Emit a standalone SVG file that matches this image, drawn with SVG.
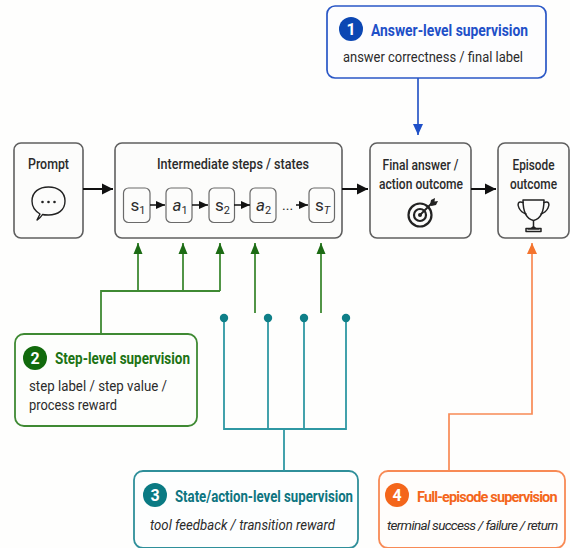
<svg xmlns="http://www.w3.org/2000/svg" width="570" height="548" viewBox="0 0 570 548">
<style>
text{font-family:"Roboto","Liberation Sans",sans-serif;fill:#2b2b2b}
.box{fill:#fcfcfb;stroke:#5f5f5f;stroke-width:1.6}
.in{fill:#fcfcfb;stroke:#6a6a6a;stroke-width:1.2}
.lb{font-size:15px;font-weight:500;text-anchor:middle}
.sub{font-size:15px}
.it{font-style:italic}
.ttl{font-size:17px;font-weight:700}
.num{font-size:16px;font-weight:700;fill:#fff;text-anchor:middle}
.m{font-size:17px}
.s{font-size:11px}
.k{fill:none;stroke:#111;stroke-width:2}
.ik{fill:none;stroke:#222;stroke-width:2;stroke-linecap:round;stroke-linejoin:round}
</style>
<defs>
<marker id="ab" markerUnits="userSpaceOnUse" markerWidth="12" markerHeight="12" refX="11" refY="6" orient="auto"><path d="M0 .5L11 6L0 11.5z" fill="#111"/></marker>
<marker id="as" markerUnits="userSpaceOnUse" markerWidth="10" markerHeight="10" refX="9" refY="5" orient="auto"><path d="M0 1L9 5L0 9z" fill="#111"/></marker>
<marker id="ag" markerUnits="userSpaceOnUse" markerWidth="12" markerHeight="12" refX="11" refY="6" orient="auto"><path d="M0 1.5L11 6L0 10.500z" fill="#1c6b14"/></marker>
<marker id="au" markerUnits="userSpaceOnUse" markerWidth="12" markerHeight="12" refX="11" refY="6" orient="auto"><path d="M0 1L11 6L0 11z" fill="#1f50c8"/></marker>
<marker id="ao" markerUnits="userSpaceOnUse" markerWidth="12" markerHeight="12" refX="11" refY="6" orient="auto"><path d="M0 1L11 6L0 11z" fill="#f4742e"/></marker>
</defs>
<rect width="570" height="548" fill="#fefefd"/>
<g id="prompt"><rect class="box" x="14" y="143" width="69" height="95" rx="7"/><text class="lb" x="48.500" y="169" textLength="41" lengthAdjust="spacingAndGlyphs">Prompt</text>
<path class="ik" style="stroke-width:1.400" d="M37 220L40 214C35 211 32 206 32 201C32 192 39 187 48.500 187C58 187 65 192 65 201C65 210 58 215 48.500 215C46 215 44 215 42.500 214.500C41 217 39 219 37 220Z"/>
<g fill="#222"><circle cx="42.500" cy="202" r="1.300"/><circle cx="48.500" cy="202" r="1.300"/><circle cx="54.500" cy="202" r="1.300"/></g></g>
<g id="intermediate"><rect class="box" x="115" y="143" width="227" height="95" rx="7"/><text class="lb" x="233" y="169" textLength="152" lengthAdjust="spacingAndGlyphs">Intermediate steps / states</text>
<g id="s1"><rect class="in" x="123.500" y="188" width="26.500" height="34.500" rx="5"/><text class="m" x="130.500" y="211">s<tspan class="s" dy="3">1</tspan></text></g>
<g id="a1"><rect class="in" x="166" y="188" width="26" height="34.500" rx="5"/><text class="m it" x="172.500" y="211">a<tspan class="s" dy="3" style="font-style:normal">1</tspan></text></g>
<g id="s2"><rect class="in" x="209" y="188" width="25.500" height="34.500" rx="5"/><text class="m" x="215" y="211">s<tspan class="s" dy="3">2</tspan></text></g>
<g id="a2"><rect class="in" x="250" y="188" width="26" height="34.500" rx="5"/><text class="m it" x="256" y="211">a<tspan class="s" dy="3" style="font-style:normal">2</tspan></text></g>
<text x="282" y="210" font-size="14">...</text>
<g id="sT"><rect class="in" x="309" y="188" width="25.500" height="34.500" rx="5"/><text class="m" x="315" y="211">s<tspan class="s it" dy="3">T</tspan></text></g></g>
<g id="final"><rect class="box" x="370" y="143" width="101" height="95" rx="7"/><text class="lb" x="420.500" y="170" textLength="76" lengthAdjust="spacingAndGlyphs">Final answer /</text><text class="lb" x="421" y="189" textLength="84" lengthAdjust="spacingAndGlyphs">action outcome</text>
<g fill="none" stroke="#222" stroke-width="2.200"><circle cx="420" cy="215" r="11.500"/><circle cx="420" cy="215" r="6"/></g><circle cx="420" cy="215" r="2" fill="#222"/>
<path d="M420 215L432 203" stroke="#222" stroke-width="1.800"/><path d="M430 205L431 200L435 198L434.500 201.500L438 201L436 205L431.500 206Z" fill="#222"/></g>
<g id="episode"><rect class="box" x="498" y="143" width="71" height="95" rx="7"/><text class="lb" x="533.500" y="170" textLength="42" lengthAdjust="spacingAndGlyphs">Episode</text><text class="lb" x="533.500" y="189" textLength="47" lengthAdjust="spacingAndGlyphs">outcome</text>
<g class="ik" style="stroke-width:1.500"><path d="M523 200H544C544 212 540 219 533.500 220.500C527 219 523 212 523 200Z"/><path d="M523 202.500C518 201 517 204 519 208C520.500 211 523 213 526 214M544 202.500C549 201 550 204 548 208C546.500 211 544 213 541 214"/><path d="M533.500 221V226C533.500 227.500 530 229 528 229H539C537 229 533.500 227.500 533.500 226M526 231.500H541V228.500H526Z"/></g></g>
<g id="answer-level"><rect x="327" y="6" width="219" height="72" rx="8" fill="#fdfdfe" stroke="#2a57c6" stroke-width="1.700"/><circle cx="351" cy="29" r="12" fill="#0c47b3"/><text class="num" x="351" y="35">1</text><text class="ttl" x="371" y="36" style="fill:#1f50c8" textLength="157" lengthAdjust="spacingAndGlyphs">Answer-level supervision</text><text class="sub" x="343" y="62" textLength="180" lengthAdjust="spacingAndGlyphs">answer correctness / final label</text></g>
<g id="step-level"><rect x="15" y="334" width="182" height="92" rx="9" fill="#fdfefc" stroke="#3f8a33" stroke-width="1.800"/><circle cx="35" cy="358" r="12" fill="#116a0c"/><text class="num" x="35" y="364">2</text><text class="ttl" x="55" y="364" style="fill:#1c7314" textLength="135" lengthAdjust="spacingAndGlyphs">Step-level supervision</text><text class="sub" x="29" y="391" textLength="138" lengthAdjust="spacingAndGlyphs">step label / step value /</text><text class="sub" x="29" y="410" textLength="88" lengthAdjust="spacingAndGlyphs">process reward</text></g>
<g id="state-action-level"><rect x="134" y="471" width="224" height="77" rx="9" fill="#fdfefe" stroke="#2f8f9a" stroke-width="1.800"/><circle cx="155" cy="495" r="12" fill="#0a7a83"/><text class="num" x="155" y="501">3</text><text class="ttl" x="175" y="502" style="fill:#0e7580" textLength="178" lengthAdjust="spacingAndGlyphs">State/action-level supervision</text><text class="sub it" x="150" y="530" textLength="185" lengthAdjust="spacingAndGlyphs">tool feedback / transition reward</text></g>
<g id="full-episode"><rect x="379" y="471" width="186" height="77" rx="9" fill="#fffdfb" stroke="#f88a55" stroke-width="1.800"/><circle cx="397" cy="495" r="12" fill="#f4661b"/><text x="397" y="501" class="num">4</text><text x="417" y="502" font-size="14.500" font-weight="700" letter-spacing="-.85" style="fill:#f4661b">Full-episode supervision</text><text x="387" y="530" font-size="13.500" letter-spacing="-.68" class="it">terminal success / failure / return</text></g>
<g id="connectors">
<g class="k"><path d="M83 189H113" marker-end="url(#ab)"/><path d="M342 189H368" marker-end="url(#ab)"/><path d="M471 189H496" marker-end="url(#ab)"/></g>
<g class="k" style="stroke-width:1.500"><path d="M150 205H165" marker-end="url(#as)"/><path d="M192 205H208" marker-end="url(#as)"/><path d="M234 205H250" marker-end="url(#as)"/><path d="M296 205H308" marker-end="url(#as)"/></g>
<path d="M418 78V135" fill="none" stroke="#2a57c6" stroke-width="1.700" marker-end="url(#au)"/>
<g fill="none" stroke="#3f8a33" stroke-width="1.800"><path d="M101 334V291H220"/><path d="M138 291V243" marker-end="url(#ag)"/><path d="M183 291V243" marker-end="url(#ag)"/><path d="M220 291V243" marker-end="url(#ag)"/><path d="M255 313V243" marker-end="url(#ag)"/><path d="M321 313V243" marker-end="url(#ag)"/></g>
<g fill="none" stroke="#2f98a3" stroke-width="1.800"><path d="M224 318V429H346V318"/><path d="M268 318V429"/><path d="M304 318V429"/><path d="M284 429V471"/></g>
<g fill="#0f7f88"><circle cx="224" cy="318" r="4.200"/><circle cx="268" cy="318" r="4.200"/><circle cx="304" cy="318" r="4.200"/><circle cx="346" cy="318" r="4.200"/></g>
<path d="M449 471V414H532V243" fill="none" stroke="#f88a55" stroke-width="1.700" marker-end="url(#ao)"/>
</g>
</svg>
